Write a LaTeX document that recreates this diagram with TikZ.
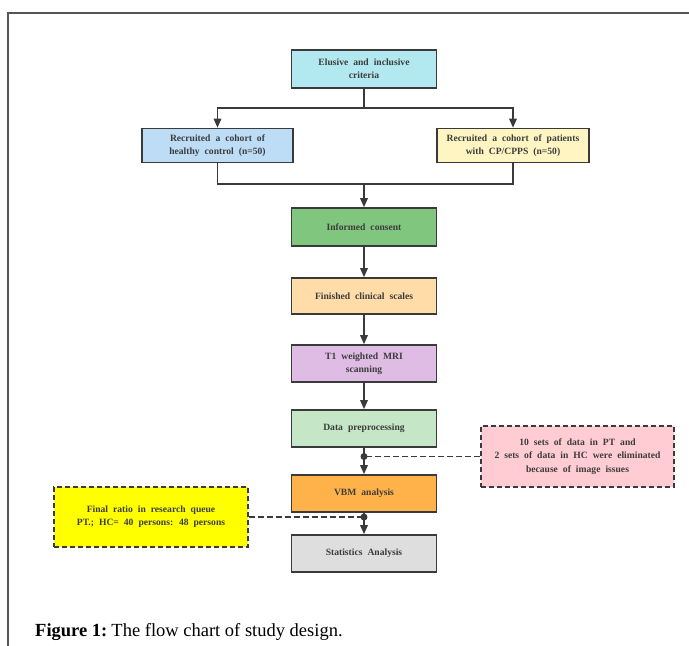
\documentclass[tikz,border=0pt]{standalone}
\usepackage{fontspec}
\setmainfont{Liberation Serif}
\usetikzlibrary{arrows.meta}
\definecolor{ln}{HTML}{3A3A3A}
\definecolor{txt}{HTML}{3C3C3C}
\definecolor{cCyan}{HTML}{B2E9F0}
\definecolor{cBlue}{HTML}{BDDDF7}
\definecolor{cCream}{HTML}{FFF5C2}
\definecolor{cGreen}{HTML}{80C67E}
\definecolor{cPeach}{HTML}{FFDCA8}
\definecolor{cLav}{HTML}{DEBCE4}
\definecolor{cMint}{HTML}{C6E6C8}
\definecolor{cOrange}{HTML}{FFB24A}
\definecolor{cGray}{HTML}{DEDEDE}
\definecolor{cPink}{HTML}{FFCCD3}
\definecolor{cYellow}{HTML}{FFFF00}
\definecolor{frame}{HTML}{555555}
\tikzset{
  boxtext/.style={text=txt, align=center, inner sep=0pt,
    font={\bfseries\fontsize{9.6}{13.3}\selectfont\spaceskip=5pt plus 1pt}},
  flowbox/.style={boxtext, draw=ln, line width=1.6pt, minimum width=145pt, minimum height=37pt},
  sidebox/.style={boxtext, draw=ln, line width=1.6pt, minimum width=151pt, minimum height=34pt},
  notebox/.style={boxtext, draw=ln, line width=1.4pt, dash pattern=on 5pt off 3pt},
  conn/.style={draw=ln, line width=1.6pt},
  arr/.style={conn, -{Triangle[length=9pt,width=7.5pt]}},
  dconn/.style={draw=ln, line width=1.8pt, dash pattern=on 6pt off 3pt},
}
\begin{document}
\begin{tikzpicture}[x=1pt,y=-1pt]
\useasboundingbox (0,0) rectangle (689,646);
\draw[frame, line width=1.5pt] (8,647) -- (8,13) -- (690,13);

\node[flowbox, fill=cCyan, minimum height=38pt] (elusive) at (364,69) {Elusive and inclusive\\criteria};
\node[sidebox, fill=cBlue] (left) at (217.5,145.5) {Recruited a cohort of\\healthy control (n=50)};
\node[sidebox, fill=cCream, minimum width=152pt] (right) at (513,145.5) {Recruited a cohort of patients\\with CP/CPPS (n=50)};
\node[flowbox, fill=cGreen, minimum height=38pt] (consent) at (364,227) {Informed consent};
\node[flowbox, fill=cPeach, minimum height=36pt] (finished) at (364,296) {Finished clinical scales};
\node[flowbox, fill=cLav] (t1) at (364,363.5) {T1 weighted MRI\\scanning};
\node[flowbox, fill=cMint] (prep) at (364,428.5) {Data preprocessing};
\node[flowbox, fill=cOrange] (vbm) at (364,493.5) {VBM analysis};
\node[flowbox, fill=cGray] (stats) at (364,553.5) {Statistics Analysis};
\node[notebox, fill=cPink, minimum width=193pt, minimum height=61pt] (pink) at (577.5,456.5) {10 sets of data in PT and\\2 sets of data in HC were eliminated\\because of image issues};
\node[notebox, fill=cYellow, minimum width=194pt, minimum height=60pt] (yellow) at (151,517) {Final ratio in research queue\\PT.; HC= 40 persons: 48 persons};

\coordinate (b1) at (364,108);
\coordinate (b2) at (364,184);
\coordinate (d1) at (364,456.5);
\coordinate (d2) at (364,517);

\draw[conn] (elusive.south) -- (b1);
\draw[arr] (b1) -| (left.north);
\draw[arr] (b1) -| (right.north);
\draw[conn] (left.south) |- (b2);
\draw[conn] (right.south) |- (b2);
\draw[arr] (b2) -- (consent.north);
\draw[arr] (consent.south) -- (finished.north);
\draw[arr] (finished.south) -- (t1.north);
\draw[arr] (t1.south) -- (prep.north);
\draw[arr] (prep.south) -- (vbm.north);
\draw[arr] (vbm.south) -- (stats.north);
\draw[dconn] (pink.west) -- (d1);
\draw[dconn] (yellow.east) -- (d2);
\fill[ln] (d1) circle (3.5pt);
\fill[ln] (d2) circle (3.5pt);

\node[anchor=base west, inner sep=0pt, font=\fontsize{18.5}{20}\selectfont, text=black] (cap) at (35,636) {\textbf{Figure 1:}\hspace{-2pt} The flow chart of study design.};
\end{tikzpicture}
\end{document}
